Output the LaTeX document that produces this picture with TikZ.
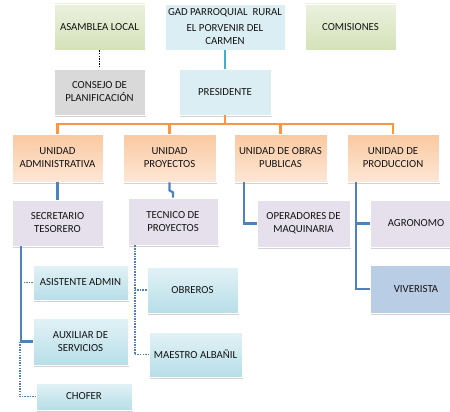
\documentclass[tikz,border=0pt]{standalone}
\usepackage{fontspec}
\setmainfont{Carlito}
\usetikzlibrary{calc,shadows}
\definecolor{grnT}{HTML}{EBF1DE}\definecolor{grnB}{HTML}{D4E2B8}
\definecolor{lblue}{HTML}{DAEEF3}
\definecolor{greyb}{HTML}{D9D9D9}
\definecolor{orT}{HTML}{FAC9A0}\definecolor{orB}{HTML}{FDE7D6}
\definecolor{lav}{HTML}{E5E0EC}
\definecolor{cyT}{HTML}{E2F2F6}\definecolor{cyB}{HTML}{B7DEE8}
\definecolor{viv}{HTML}{B9CDE5}
\definecolor{orline}{HTML}{F79646}
\definecolor{bline}{HTML}{4F81BD}
\definecolor{cline}{HTML}{4BACC6}
\definecolor{txt}{HTML}{141414}
\begin{document}
\begin{tikzpicture}[x=1pt,y=-1pt,
  box/.style={rectangle, draw=white, line width=0.8pt, inner sep=1pt, align=center,
    text=txt, font=\fontsize{10.8}{13}\selectfont,
    drop shadow={shadow xshift=1pt, shadow yshift=-1.5pt, opacity=0.35, fill=gray}},
  greenbox/.style={box, top color=grnT, bottom color=grnB},
  bluebox/.style={box, fill=lblue},
  greybox/.style={box, fill=greyb},
  orbox/.style={box, top color=orT, bottom color=orB},
  lavbox/.style={box, fill=lav},
  cybox/.style={box, top color=cyT, bottom color=cyB},
  vivbox/.style={box, fill=viv},
  orconn/.style={draw=orline, line width=2.8pt},
  bconn/.style={draw=bline, line width=2.2pt},
  dconn/.style={draw=bline, line width=1.8pt, dash pattern=on 1.5pt off 1.1pt},
]
\useasboundingbox (0,0) rectangle (450,412);
\clip (0,0) rectangle (450,412);
% top row
\node[greenbox, minimum width=91pt, minimum height=46pt] (asamblea) at (99.5,27) {ASAMBLEA LOCAL};
\node[bluebox, minimum width=120pt, minimum height=46pt] (gad) at (225,27) {GAD PARROQUIAL\ \ RURAL\\[3pt]EL PORVENIR DEL\\CARMEN};
\node[greenbox, minimum width=91pt, minimum height=46pt] (comisiones) at (350.5,27) {COMISIONES};
% second row
\node[greybox, minimum width=91pt, minimum height=46pt] (consejo) at (99.5,92) {CONSEJO DE\\PLANIFICACIÓN};
\node[bluebox, minimum width=92pt, minimum height=46pt] (presidente) at (225,92) {PRESIDENTE};
% units
\node[orbox, minimum width=91pt, minimum height=48pt] (ua) at (57.5,158) {UNIDAD\\ADMINISTRATIVA};
\node[orbox, minimum width=93pt, minimum height=48pt] (up) at (169.5,158) {UNIDAD\\PROYECTOS};
\node[orbox, minimum width=93pt, minimum height=48pt] (uo) at (280.5,158) {UNIDAD DE OBRAS\\PUBLICAS};
\node[orbox, minimum width=92pt, minimum height=48pt] (upr) at (393,158) {UNIDAD DE\\PRODUCCION};
% level 4
\node[lavbox, minimum width=91pt, minimum height=46pt] (sec) at (57.5,223) {SECRETARIO\\TESORERO};
\node[lavbox, minimum width=90pt, minimum height=47pt] (tec) at (173,221.5) {TECNICO DE\\PROYECTOS};
\node[lavbox, minimum width=93pt, minimum height=47pt] (ope) at (303.5,223.5) {OPERADORES DE\\MAQUINARIA};
\node[lavbox, minimum width=92pt, minimum height=47pt] (agr) at (416,223.5) {AGRONOMO};
\node[vivbox, minimum width=92pt, minimum height=48pt] (viv) at (416,289) {VIVERISTA};
% level 5
\node[cybox, minimum width=95pt, minimum height=35pt] (asis) at (80.5,282.5) {ASISTENTE ADMIN};
\node[cybox, minimum width=95pt, minimum height=47pt] (aux) at (80.5,341.5) {AUXILIAR DE\\SERVICIOS};
\node[cybox, minimum width=96pt, minimum height=27pt] (chofer) at (84,396.5) {CHOFER};
\node[cybox, minimum width=91pt, minimum height=46pt] (obreros) at (192.5,290) {OBREROS};
\node[cybox, minimum width=93pt, minimum height=45pt] (maestro) at (195.5,354.5) {MAESTRO ALBAÑIL};
% connectors
\draw[line width=1.6pt, dash pattern=on 1.5pt off 1.1pt] (asamblea.south) -- (consejo.north);
\draw[draw=cline, line width=2.6pt] (gad.south) -- (presidente.north);
\coordinate (bus) at (225,124);
\draw[orconn] (presidente.south) -- (bus);
\draw[orconn] (bus) -| (ua.north);
\draw[orconn] (bus) -| (up.north);
\draw[orconn] (bus) -| (uo.north);
\draw[orconn] (bus) -| (upr.north);
\draw[bconn] (ua.south) -- (sec.north);
\draw[bconn] (up.south) -- ++(0,8) -- ++(3.5,2) -- (tec.north);
\coordinate (uoL) at ($(uo.south west)+(10,0)$);
\draw[bconn] (uoL) |- (ope.west);
\coordinate (uprL) at ($(upr.south west)+(9,0)$);
\draw[bconn] (uprL) |- (agr.west);
\draw[bconn] (uprL) |- (viv.west);
\coordinate (secL) at ($(sec.south west)+(9,0)$);
\coordinate (secD) at ($(sec.south west)+(8,0)$);
\draw[bconn] (secL) |- (aux.west);
\draw[dconn] (secD |- aux.west) |- (chofer.west);
\draw[dconn] ([xshift=3pt]secL |- asis.west) -- (asis.west);
\coordinate (tecL) at ($(tec.south west)+(7,0)$);
\draw[dconn] (tecL) |- (maestro.west);
\draw[dconn] (tecL |- obreros.west) -- (obreros.west);
\end{tikzpicture}
\end{document}
